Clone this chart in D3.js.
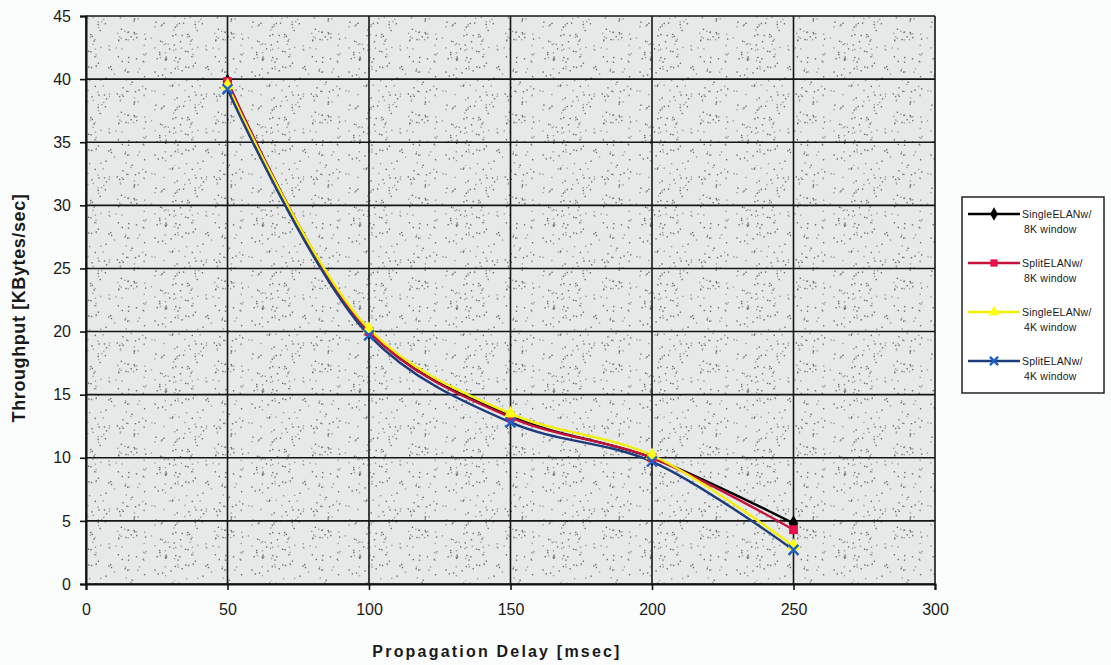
<!DOCTYPE html>
<html><head><meta charset="utf-8">
<script src="https://cdn.jsdelivr.net/npm/d3@7"></script>
<style>
body{margin:0;background:#fbfdfc;}
svg{display:block;}
</style></head>
<body><svg id="c" width="1111" height="665"></svg>
<script>
const delays = [50, 100, 150, 200, 250];
const single8K = [39.8, 20.0, 13.3, 10.0, 4.8];
const split8K  = [39.8, 20.0, 13.2, 10.0, 4.3];
const single4K = [39.5, 20.2, 13.5, 10.2, 3.0];
const split4K  = [39.2, 19.7, 12.8, 9.7, 2.7];
const xTicks = [0, 50, 100, 150, 200, 250, 300];
const yTicks = [0, 5, 10, 15, 20, 25, 30, 35, 40, 45];
const seriesNames = [["SingleELANw/", "8K window"], ["SplitELANw/", "8K window"], ["SingleELANw/", "4K window"], ["SplitELANw/", "4K window"]];

const series = [
  {name: seriesNames[0], values: single8K, color: "#000000", mcolor: "#000000", marker: "diamond"},
  {name: seriesNames[1], values: split8K, color: "#c8103c", mcolor: "#e8104a", marker: "square"},
  {name: seriesNames[2], values: single4K, color: "#f4f000", mcolor: "#ffff10", marker: "triangle"},
  {name: seriesNames[3], values: split4K, color: "#1c3c7c", mcolor: "#1f5fc8", marker: "x"}
];

const svg = d3.select("#c");
const L = 86, R = 935, T = 16, B = 584;
const x = d3.scaleLinear().domain([0, 300]).range([L, R]);
const y = d3.scaleLinear().domain([0, 45]).range([B, T]);

// stipple pattern (decorative background texture)
const defs = svg.append("defs");
const pat = defs.append("pattern").attr("id", "stip").attr("patternUnits", "userSpaceOnUse")
  .attr("width", 97).attr("height", 83);
pat.append("rect").attr("width", 97).attr("height", 83).attr("fill", "#e7e9e8");
let s = 12345;
function rnd(){ s = (s * 1103515245 + 12345) % 2147483648; return s / 2147483648; }
for (let i = 0; i < 170; i++) {
  pat.append("rect").attr("x", (rnd() * 97).toFixed(1)).attr("y", (rnd() * 83).toFixed(1))
    .attr("width", 1.4).attr("height", 1.4).attr("fill", rnd() < 0.5 ? "#6a6e70" : "#9a9fa1");
}
svg.append("rect").attr("x", L).attr("y", T).attr("width", R - L).attr("height", B - T)
  .attr("fill", "url(#stip)");

// grid
const g = svg.append("g");
g.selectAll(".hg").data(yTicks).enter().append("line")
  .attr("x1", L).attr("x2", R).attr("y1", d => y(d)).attr("y2", d => y(d))
  .attr("stroke", "#151515").attr("stroke-width", 1.6);
g.selectAll(".vg").data(xTicks).enter().append("line")
  .attr("y1", T).attr("y2", B).attr("x1", d => x(d)).attr("x2", d => x(d))
  .attr("stroke", "#151515").attr("stroke-width", 1.6);

// axes
const xAxis = d3.axisBottom(x).tickValues(xTicks).tickSize(6).tickPadding(14);
const yAxis = d3.axisLeft(y).tickValues(yTicks).tickSize(6).tickPadding(9);
const xa = svg.append("g").attr("transform", `translate(0,${B})`).call(xAxis);
const ya = svg.append("g").attr("transform", `translate(${L},0)`).call(yAxis);
[xa, ya].forEach(a => {
  a.select(".domain").attr("stroke", "#111").attr("stroke-width", 2);
  a.selectAll(".tick line").attr("stroke", "#111").attr("stroke-width", 1.6);
  a.selectAll(".tick text").attr("font-family", "Liberation Sans, Arial, sans-serif")
    .attr("font-size", 16).attr("fill", "#1a1a1a");
});

// axis titles
svg.append("text").attr("x", 497).attr("y", 657).attr("text-anchor", "middle")
  .attr("font-family", "Liberation Sans, Arial, sans-serif").attr("font-weight", "bold")
  .attr("font-size", 16).attr("letter-spacing", 2.2).attr("fill", "#1a1a1a")
  .text("Propagation Delay [msec]");
svg.append("text").attr("transform", "translate(25,308) rotate(-90)").attr("text-anchor", "middle")
  .attr("font-family", "Liberation Sans, Arial, sans-serif").attr("font-weight", "bold")
  .attr("font-size", 18).attr("letter-spacing", 0.6).attr("fill", "#1a1a1a")
  .text("Throughput [KBytes/sec]");

// lines (smoothed, like spreadsheet smoothed lines)
const line = d3.line().x((d, i) => x(delays[i])).y(d => y(d)).curve(d3.curveCatmullRom.alpha(0.5));
function drawMarker(sel, type, color, size) {
  if (type === "x") {
    const h = size * 0.9;
    sel.append("path").attr("d", `M${-h},${-h}L${h},${h}M${-h},${h}L${h},${-h}`)
      .attr("stroke", color).attr("stroke-width", 2.4).attr("fill", "none");
  } else {
    const sym = type === "diamond" ? d3.symbolDiamond : type === "square" ? d3.symbolSquare : d3.symbolTriangle;
    sel.append("path").attr("d", d3.symbol().type(sym).size(size * size * 2.6)()).attr("fill", color);
  }
}
series.forEach(sr => {
  svg.append("path").datum(sr.values).attr("d", line).attr("fill", "none")
    .attr("stroke", sr.color).attr("stroke-width", 2.4);
});
series.forEach(sr => {
  sr.values.forEach((v, i) => {
    const m = svg.append("g").attr("transform", `translate(${x(delays[i])},${y(v)})`);
    drawMarker(m, sr.marker, sr.mcolor, 5.5);
  });
});

// legend
const lg = svg.append("g");
lg.append("rect").attr("x", 962).attr("y", 197).attr("width", 142).attr("height", 196)
  .attr("fill", "#ffffff").attr("stroke", "#222").attr("stroke-width", 1.5);
series.forEach((sr, i) => {
  const cy = 214 + i * 49;
  lg.append("line").attr("x1", 968).attr("x2", 1020).attr("y1", cy).attr("y2", cy)
    .attr("stroke", sr.color).attr("stroke-width", 2.4);
  const m = lg.append("g").attr("transform", `translate(994,${cy})`);
  drawMarker(m, sr.marker, sr.mcolor, 4.5);
  const t = lg.append("text").attr("x", 1022).attr("y", cy + 4)
    .attr("font-family", "Liberation Sans, Arial, sans-serif")
    .attr("font-size", 10.5).attr("letter-spacing", 0.2).attr("fill", "#1a1a1a");
  t.append("tspan").text(sr.name[0]);
  t.append("tspan").attr("x", 1024).attr("dy", 15).text(sr.name[1]);
});
</script></body></html>
